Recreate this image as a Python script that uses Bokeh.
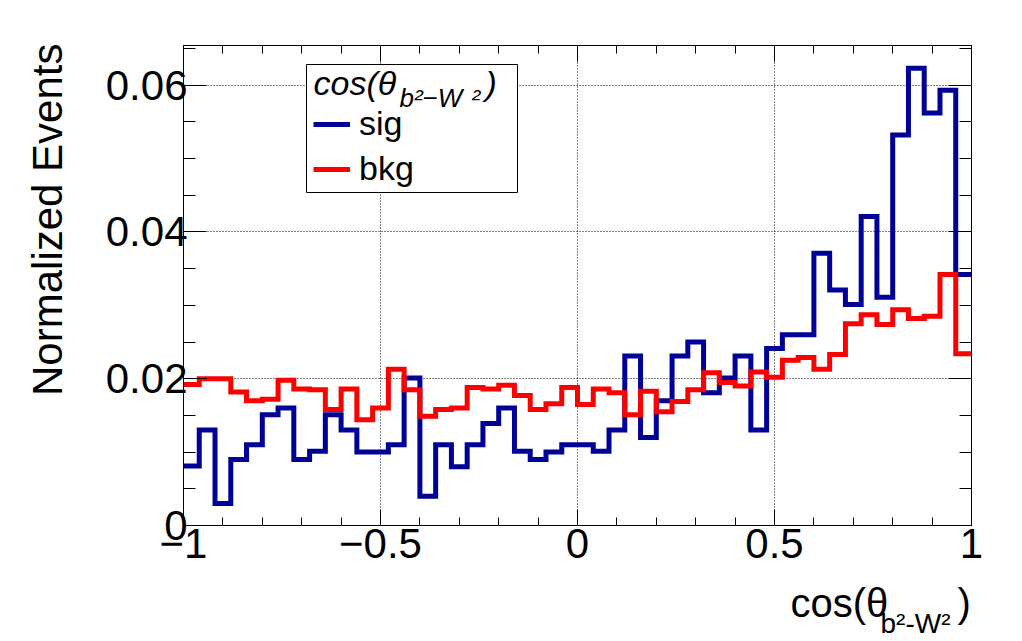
import numpy as np
from bokeh.plotting import figure
from bokeh.models import (Range1d, LinearAxis, FixedTicker, Label, Legend, LegendItem,
                          BoxAnnotation, CustomLabelingPolicy, Grid)
from bokeh.embed import file_html
from bokeh.resources import INLINE

# ---------------- data ----------------
x_min, x_max = -1.0, 1.0
y_min, y_max = 0.0, 0.0654
n_bins = 50

sig = [0.0081, 0.0130, 0.0030, 0.0090, 0.0110, 0.0151, 0.0160, 0.0090, 0.0101, 0.0151,
       0.0130, 0.0100, 0.0100, 0.0110, 0.0201, 0.0040, 0.0110, 0.0080, 0.0110, 0.0139,
       0.0160, 0.0101, 0.0090, 0.0100, 0.0110, 0.0110, 0.0101, 0.0130, 0.0231, 0.0120,
       0.0170, 0.0231, 0.0250, 0.0181, 0.0201, 0.0231, 0.0130, 0.0241, 0.0260, 0.0260,
       0.0371, 0.0321, 0.0301, 0.0421, 0.0311, 0.0532, 0.0623, 0.0562, 0.0593, 0.0342]

bkg = [0.0192, 0.0200, 0.0200, 0.0182, 0.0170, 0.0172, 0.0198, 0.0186, 0.0185, 0.0158,
       0.0186, 0.0144, 0.0160, 0.0213, 0.0185, 0.0149, 0.0158, 0.0160, 0.0188, 0.0186,
       0.0191, 0.0177, 0.0158, 0.0166, 0.0188, 0.0165, 0.0186, 0.0181, 0.0151, 0.0183,
       0.0155, 0.0169, 0.0185, 0.0208, 0.0195, 0.0190, 0.0209, 0.0202, 0.0225, 0.0229,
       0.0213, 0.0233, 0.0275, 0.0287, 0.0274, 0.0294, 0.0282, 0.0285, 0.0342, 0.0234]

x_ticks = [-1, -0.5, 0, 0.5, 1]
x_tick_labels = ["\u22121", "\u22120.5", "0", "0.5", "1"]
x_minor_ticks = [-0.9, -0.8, -0.7, -0.6, -0.4, -0.3, -0.2, -0.1,
                 0.1, 0.2, 0.3, 0.4, 0.6, 0.7, 0.8, 0.9]
y_ticks = [0, 0.02, 0.04, 0.06]
y_tick_labels = ["0", "0.02", "0.04", "0.06"]
y_minor_ticks = [0.005, 0.01, 0.015, 0.025, 0.03, 0.035, 0.045, 0.05, 0.055, 0.065]

series_names = ["sig", "bkg"]
series_colors = ["#000099", "#ff0000"]
y_title = "Normalized Events"
legend_header = ["cos(\u03b8", "b\u00b2\u2212W", "\u00b2", ")"]
x_title = ["cos(\u03b8", "b\u00b2-W\u00b2", ")"]

FONT = "Liberation Sans"
MID = 0.35   # distance from alphabetic baseline to the middle of the text box, in em

# ---------------- layout (pixels) ----------------
W, H = 1020, 641
FL, FT, FR, FB = 183, 45, 971, 525          # frame box in page pixels
px_per_x = (FR - FL) / (x_max - x_min)
px_per_y = (FB - FT) / (y_max - y_min)


def dx(px):
    return x_min + (px - FL) / px_per_x


def dy(py):
    return y_min + (FB - py) / px_per_y


p = figure(width=W, height=H, output_backend="svg", toolbar_location=None,
           x_range=Range1d(x_min, x_max), y_range=Range1d(y_min, y_max),
           x_axis_type=None, y_axis_type=None, title=None,
           min_border_left=FL, min_border_right=W - FR, min_border_top=FT,
           min_border_bottom=H - FB)
p.outline_line_color = "black"
p.outline_line_width = 1
p.background_fill_color = "white"
p.border_fill_color = "white"

no_labels = CustomLabelingPolicy(code="for (const i of indices) indices.unset(i); return indices")


def make_axis(ticks, minor, labels, major_len, minor_len, show_labels, standoff):
    ax = LinearAxis(ticker=FixedTicker(ticks=ticks, minor_ticks=minor))
    ax.major_tick_in = major_len
    ax.major_tick_out = 0
    ax.minor_tick_in = minor_len
    ax.minor_tick_out = 0
    ax.axis_line_color = "black"
    ax.major_tick_line_color = "black"
    ax.minor_tick_line_color = "black"
    ax.axis_line_width = 1
    ax.major_tick_line_width = 1
    ax.minor_tick_line_width = 1
    ax.major_label_standoff = standoff
    if show_labels:
        ax.major_label_overrides = dict(zip(ticks, labels))
        ax.major_label_text_font = FONT
        ax.major_label_text_font_size = "42px"
        ax.major_label_text_color = "black"
    else:
        ax.major_label_policy = no_labels
    return ax


p.add_layout(make_axis(x_ticks, x_minor_ticks, x_tick_labels, 16, 8, True, 3), "below")
p.add_layout(make_axis(x_ticks, x_minor_ticks, x_tick_labels, 16, 8, False, 0), "above")
p.add_layout(make_axis(y_ticks, y_minor_ticks, y_tick_labels, 23, 12, True, -4), "left")
p.add_layout(make_axis(y_ticks, y_minor_ticks, y_tick_labels, 23, 12, False, 0), "right")

for dim, ticks in ((0, x_ticks), (1, y_ticks)):
    g = Grid(dimension=dim, ticker=FixedTicker(ticks=ticks))
    g.grid_line_color = "black"
    g.grid_line_dash = "1 2"
    g.grid_line_width = 1
    p.add_layout(g)

# ---------------- histograms ----------------
edges = np.linspace(x_min, x_max, n_bins + 1)
renderers = []
for vals, col in zip([sig, bkg], series_colors):
    r = p.step(x=edges, y=list(vals) + [vals[-1]], mode="after",
               line_color=col, line_width=5, line_join="miter")
    renderers.append(r)

# ---------------- legend ----------------
box = BoxAnnotation(left=123, right=334, top=461, bottom=333,
                    left_units="screen", right_units="screen",
                    top_units="screen", bottom_units="screen",
                    fill_color="white", fill_alpha=1.0,
                    line_color="black", line_width=1, line_alpha=1.0)
p.add_layout(box)

legend = Legend(items=[LegendItem(label=n, renderers=[r]) for n, r in zip(series_names, renderers)],
                location=(130, 337), orientation="vertical", padding=0, margin=0, spacing=6,
                glyph_width=37, glyph_height=36, label_height=36, label_width=100,
                label_standoff=9, label_text_font=FONT, label_text_font_size="34px",
                label_text_color="black",
                border_line_color=None, background_fill_alpha=0.0)
p.add_layout(legend)


def text_label(txt, x, base_y, fs, italic=False):
    return Label(x=dx(x), y=dy(base_y - MID * fs), text=txt,
                 text_font=FONT, text_font_size=f"{fs}px",
                 text_font_style="italic" if italic else "normal",
                 text_align="left", text_baseline="middle", text_color="black")


# header pieces: (page x of left edge, page y of baseline, font size)
hdr_specs = [(313, 94, 34), (399, 107, 26), (471, 107, 26), (485, 94, 34)]
for txt, (x, y, fs) in zip(legend_header, hdr_specs):
    p.add_layout(text_label(txt, x, y, fs, italic=True))

# ---------------- axis titles (in side panels so they are not clipped) ----------------
xt_specs = [(790, 616, 40, "below"), (880, 633, 28, "above"), (957, 616, 40, "right")]
for txt, (x, y, fs, side) in zip(x_title, xt_specs):
    p.add_layout(text_label(txt, x, y, fs), side)

p.add_layout(Label(x=dx(62 - MID * 42), y=dy(43), text=y_title,
                   angle=np.pi / 2, text_font=FONT, text_font_size="42px",
                   text_align="right", text_baseline="middle", text_color="black"), "left")

open("out.html", "w").write(file_html(p, INLINE))
